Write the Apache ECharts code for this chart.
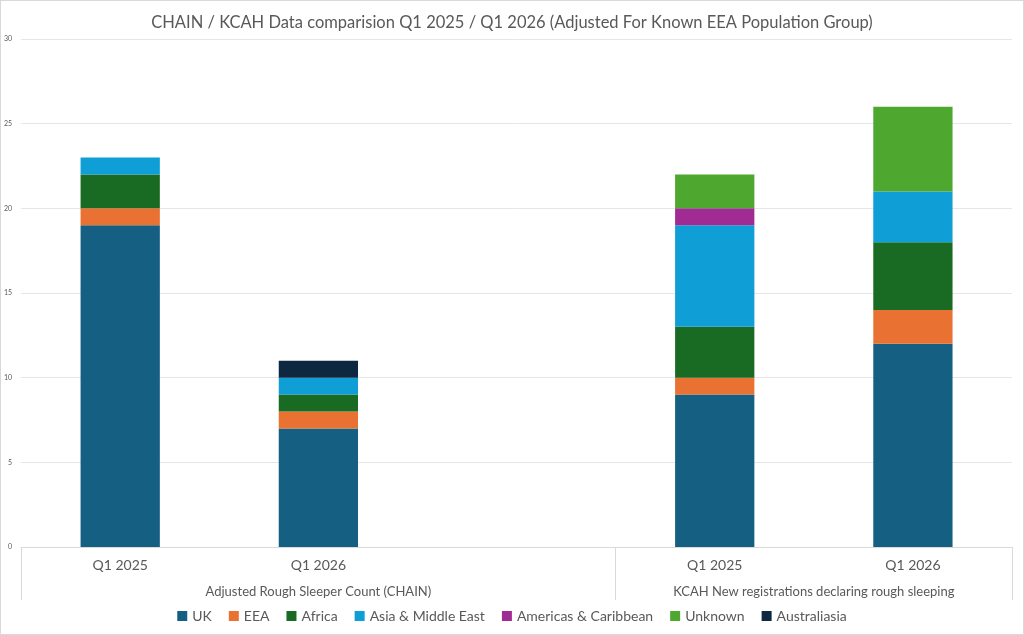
<!DOCTYPE html>
<html>
<head>
<meta charset="utf-8">
<script src="https://cdn.jsdelivr.net/npm/echarts@6/dist/echarts.min.js"></script>
<style>
html,body{margin:0;padding:0;background:#fff;}
#c{width:1022px;height:633px;border:1px solid #D9D9D9;}
</style>
</head>
<body>
<div id="c"></div>
<script>
const titleText = 'CHAIN / KCAH Data comparision Q1 2025 / Q1 2026 (Adjusted For Known EEA Population Group)';
const categories = ['Q1 2025', 'Q1 2026', '', 'Q1 2025', 'Q1 2026'];
const groupNames = ['Adjusted Rough Sleeper Count (CHAIN)', 'KCAH New registrations declaring rough sleeping'];
const groupSpans = [3, 2];
const yTicks = [0, 5, 10, 15, 20, 25, 30];

const seriesNames = ['UK', 'EEA', 'Africa', 'Asia & Middle East', 'Americas & Caribbean', 'Unknown', 'Australiasia'];
const ukValues        = [19, 7, null, 9, 12];
const eeaValues       = [1, 1, null, 1, 2];
const africaValues    = [2, 1, null, 3, 4];
const asiaValues      = [1, 1, null, 6, 3];
const americasValues  = [0, 0, null, 1, 0];
const unknownValues   = [0, 0, null, 2, 5];
const australasiaValues = [0, 1, null, 0, 0];

const seriesValues = [ukValues, eeaValues, africaValues, asiaValues, americasValues, unknownValues, australasiaValues];
const colors = ['#156082', '#E97132', '#196B24', '#0F9ED5', '#A02B93', '#4EA72E', '#0E2841'];

// group boundaries and centres in slot units
const bounds = [0];
groupSpans.forEach(s => bounds.push(bounds[bounds.length - 1] + s));
const centres = groupSpans.map((s, i) => bounds[i] + s / 2);

const chart = echarts.init(document.getElementById('c'), null, {renderer: 'canvas'});
const txt = '#595959';
const font = 'Lato, "Open Sans", sans-serif';

chart.setOption({
  animation: false,
  color: colors,
  textStyle: {fontFamily: font},
  title: {
    text: titleText,
    left: 'center',
    top: 8,
    textStyle: {color: txt, fontSize: 16.5, fontWeight: 'normal', fontFamily: font}
  },
  legend: {
    bottom: 6,
    left: 'center',
    itemWidth: 10,
    itemHeight: 10,
    itemGap: 17,
    icon: 'rect',
    textStyle: {color: txt, fontSize: 14, fontFamily: font},
    data: seriesNames
  },
  grid: {left: 20, right: 11, top: 38, bottom: 87, containLabel: false},
  xAxis: [
    {
      type: 'category',
      data: categories,
      axisLine: {show: true, lineStyle: {color: '#D9D9D9', width: 1}},
      axisTick: {show: false},
      axisLabel: {color: txt, fontSize: 14, margin: 11, interval: 0, fontFamily: font}
    },
    {
      type: 'value',
      min: bounds[0],
      max: bounds[bounds.length - 1],
      position: 'bottom',
      axisLine: {show: false},
      splitLine: {show: false},
      axisTick: {show: true, customValues: bounds, length: 53, lineStyle: {color: '#D9D9D9', width: 1}},
      axisLabel: {
        show: true,
        customValues: centres,
        color: txt,
        fontSize: 13,
        margin: 38,
        fontFamily: font,
        formatter: function (v) {
          const i = centres.findIndex(c => Math.abs(c - v) < 1e-6);
          return i >= 0 ? groupNames[i] : '';
        }
      }
    }
  ],
  yAxis: {
    type: 'value',
    min: yTicks[0],
    max: yTicks[yTicks.length - 1],
    interval: yTicks[1] - yTicks[0],
    axisLine: {show: false},
    axisTick: {show: false},
    axisLabel: {color: txt, fontSize: 7, margin: 9, fontFamily: font},
    splitLine: {lineStyle: {color: '#E6E6E6', width: 1}}
  },
  series: seriesNames.map((name, i) => ({
    name: name,
    type: 'bar',
    stack: 'total',
    xAxisIndex: 0,
    barWidth: '40%',
    data: seriesValues[i],
    itemStyle: {color: colors[i]},
    emphasis: {disabled: true}
  }))
});
</script>
</body>
</html>
